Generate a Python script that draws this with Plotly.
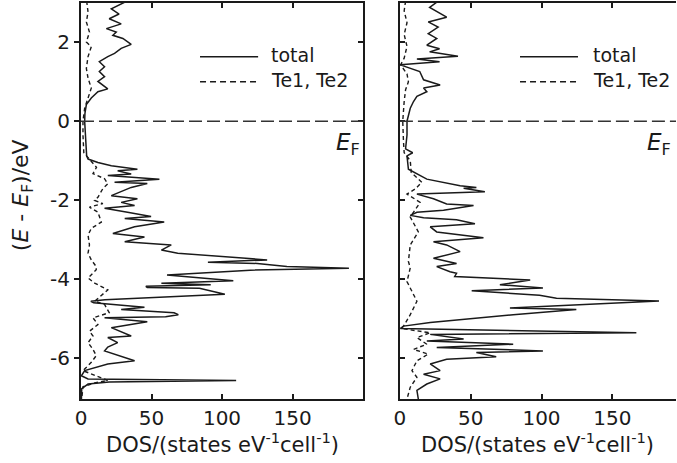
import plotly.graph_objects as go

# ---------------- data ----------------
# Left panel: total DOS
left_total_E = [3.05, 3.02, 2.85, 2.72, 2.60, 2.47, 2.35, 2.26, 2.18, 2.10, 1.95, 1.85, 1.72, 1.64, 1.51,
                1.38, 1.26, 1.13, 1.01, 0.82, 0.75, 0.59, 0.42, 0.20, 0.00, -0.35, -0.70, -0.88, -0.96,
                -1.05, -1.13, -1.22, -1.26, -1.34, -1.38, -1.47, -1.55, -1.58, -1.68, -1.89, -1.97, -2.06,
                -2.14, -2.21, -2.31, -2.42, -2.47, -2.56, -2.68, -2.85, -2.94, -3.06, -3.14, -3.27, -3.35,
                -3.52, -3.58, -3.61, -3.69, -3.73, -3.78, -3.90, -4.05, -4.09, -4.11, -4.15, -4.19, -4.22,
                -4.24, -4.39, -4.53, -4.57, -4.61, -4.72, -4.78, -4.86, -4.91, -4.96, -4.99, -5.09, -5.24,
                -5.45, -5.49, -5.62, -5.73, -5.83, -6.08, -6.16, -6.33, -6.46, -6.54, -6.58, -6.62, -6.67,
                -6.79, -7.05]
left_total = [31, 31, 21.5, 27, 20, 28.5, 18, 25, 22.6, 29.7, 35.6, 28.5, 23.8, 19, 13,
              16.7, 13, 16.7, 12, 19, 12, 7.3, 3.8, 2.8, 2.6, 3, 3.5, 4, 5,
              12, 21.5, 40, 26, 35.6, 19, 55.6, 23.8, 47, 35.6, 21.5, 40, 28.5,
              38, 16.7, 33, 49.7, 31, 59, 38, 22.6, 45, 31, 64, 57, 68.6,
              132, 90, 125, 146, 190, 120, 61, 108, 75, 57, 92, 46, 47,
              84, 102, 17, 7, 9, 45, 28.5, 66, 69, 60, 16.7, 47, 21.5,
              35.6, 19, 26, 19, 16.7, 38, 19, 2.6, 0.3, 5, 110, 20, 5,
              0.5, 0.3]

# Left panel: Te1, Te2 partial DOS
left_te_E = [3.05, 2.77, 2.52, 2.26, 2.01, 1.89, 1.64, 1.34, 1.09, 0.84, 0.59, 0.33, 0.00, -0.35, -0.80,
             -1.00, -1.17, -1.33, -1.46, -1.59, -1.71, -1.93, -2.01, -2.09, -2.18, -2.31, -2.56, -2.72,
             -2.89, -3.14, -3.35, -3.52, -3.69, -3.77, -3.98, -4.11, -4.28, -4.57, -4.65, -4.86, -4.99,
             -5.16, -5.33, -5.45, -5.62, -5.79, -5.95, -6.12, -6.33, -6.58, -6.64, -6.74, -7.05]
left_te = [4, 5, 3.8, 6, 3.8, 7.3, 5, 3.8, 5, 7.3, 5, 2.6, 1.4, 1.4, 2,
           7, 11, 8.5, 16.7, 19, 15.5, 12, 9.7, 15.5, 6, 12, 14.4, 7.3,
           5, 6, 5, 7.3, 10.8, 10.8, 5, 9.7, 19, 9.7, 16.7, 20, 8.5,
           12, 6, 8.5, 5, 8.5, 10.8, 7.3, 1.4, 19, 9.7, 1.4, 0.5]

# Right panel: total DOS
right_total_E = [3.05, 3.02, 2.89, 2.64, 2.52, 2.39, 2.22, 2.10, 1.93, 1.84, 1.76, 1.65, 1.58, 1.51, 1.43,
                 1.34, 1.26, 1.05, 0.92, 0.84, 0.75, 0.63, 0.50, 0.33, 0.00, -0.35, -0.70, -0.80, -0.88,
                 -1.22, -1.47, -1.64, -1.68, -1.70, -1.79, -1.85, -1.97, -2.10, -2.14, -2.26, -2.31, -2.39,
                 -2.45, -2.50, -2.60, -2.68, -2.81, -2.96, -3.06, -3.14, -3.31, -3.48, -3.61, -3.69, -3.82,
                 -3.86, -3.94, -4.03, -4.15, -4.23, -4.30, -4.42, -4.49, -4.56, -4.74, -4.78, -4.91, -5.11,
                 -5.20, -5.26, -5.37, -5.41, -5.53, -5.58, -5.66, -5.74, -5.83, -5.87, -5.98, -6.04, -6.16,
                 -6.33, -6.42, -6.54, -6.67, -6.83, -7.05]
right_total = [28, 26, 21, 33, 20, 27, 20, 26, 19, 28, 21, 41, 12, 28, 0.3,
               7, 14, 16.7, 28.4, 16.7, 19, 12, 9.6, 7.3, 5, 5, 4, 9, 5,
               6, 19, 42.5, 54, 45, 60, 12, 23.7, 33, 52, 30.8, 12, 7.3,
               16.7, 40, 53, 21.4, 26, 59, 23.7, 33, 42.5, 23.7, 40, 26, 35.4,
               40, 38.7, 92, 70.6, 101, 50.7, 98.6, 110.6, 183, 77.7, 124.6, 80, 21.4,
               2.6, 0.3, 167, 21.4, 45, 19, 80, 26, 101, 54, 68, 33, 21.4,
               28.4, 16.7, 28.4, 19, 12, 13]

# Right panel: Te1, Te2 partial DOS
right_te_E = [3.05, 2.80, 2.50, 2.20, 1.90, 1.60, 1.43, 1.20, 1.00, 0.80, 0.50, 0.00, -0.50, -0.80, -1.00,
              -1.30, -1.55, -1.72, -1.85, -2.06, -2.43, -2.81, -3.14, -3.56, -3.72, -4.07, -4.57, -4.91,
              -5.20, -5.26, -5.37, -5.49, -5.66, -5.79, -5.91, -6.08, -6.33, -6.50, -6.75, -7.05]
right_te = [4, 3, 5, 3, 5, 3, 0.5, 5, 6, 4, 3, 2, 2.5, 3, 7.3,
            8, 15.5, 10.8, 5, 14.3, 7.3, 13, 7.3, 6, 7.3, 5, 12, 7.3,
            2.6, 1, 21.4, 12, 19, 9.6, 20, 12, 8.5, 12, 7.3, 5]

x_ticks = [0, 50, 100, 150]
y_ticks = [-6, -4, -2, 0, 2]
y_tick_text = ["-6", "-4", "-2", "0", "2"]
EF = 0
legend_names = ["total", "Te1, Te2"]

# ---------------- figure ----------------
FONT = "DejaVu Sans"
INK = "#1a1a1a"
fig = go.Figure()

fig.add_trace(go.Scatter(x=left_total, y=left_total_E, mode="lines", xaxis="x", yaxis="y",
                         line=dict(color=INK, width=1.5), showlegend=False))
fig.add_trace(go.Scatter(x=left_te, y=left_te_E, mode="lines", xaxis="x", yaxis="y",
                         line=dict(color=INK, width=1.4, dash="4px,3px"), showlegend=False))
fig.add_trace(go.Scatter(x=right_total, y=right_total_E, mode="lines", xaxis="x2", yaxis="y2",
                         line=dict(color=INK, width=1.5), showlegend=False))
fig.add_trace(go.Scatter(x=right_te, y=right_te_E, mode="lines", xaxis="x2", yaxis="y2",
                         line=dict(color=INK, width=1.4, dash="4px,3px"), showlegend=False))

YR = [-7.05, 3.0]
tickfont = dict(family=FONT, size=20, color=INK)
xcommon = dict(showline=True, linecolor=INK, linewidth=2, ticks="inside", ticklen=5, tickwidth=1.5,
               tickcolor=INK, tickvals=x_ticks, mirror="ticks", showgrid=False, zeroline=False,
               tickfont=tickfont, fixedrange=True)

fig.update_layout(
    width=677, height=463,
    margin=dict(l=81, r=1, t=1, b=64),
    plot_bgcolor="white", paper_bgcolor="white",
    xaxis=dict(domain=[0, 0.474], range=[0, 200], anchor="y", **xcommon),
    xaxis2=dict(domain=[0.536, 1.0], range=[0, 195], anchor="y2", **xcommon),
    yaxis=dict(domain=[0, 1], range=YR, anchor="x", showline=True, linecolor=INK, linewidth=2,
               ticks="outside", ticklen=5, tickwidth=1.5, tickcolor=INK, tickvals=y_ticks,
               ticktext=y_tick_text, showgrid=False, zeroline=False, tickfont=tickfont, fixedrange=True),
    yaxis3=dict(range=YR, overlaying="y", side="right", anchor="x", showline=True, linecolor=INK,
                linewidth=2, ticks="inside", ticklen=5, tickwidth=1.5, tickcolor=INK, tickvals=y_ticks,
                showticklabels=False, showgrid=False, zeroline=False, fixedrange=True),
    yaxis2=dict(domain=[0, 1], range=YR, anchor="x2", showline=True, linecolor=INK, linewidth=2,
                ticks="inside", ticklen=5, tickwidth=1.5, tickcolor=INK, tickvals=y_ticks,
                showticklabels=False, showgrid=False, zeroline=False, fixedrange=True),
    showlegend=False,
)

# invisible trace to activate yaxis3
fig.add_trace(go.Scatter(x=[None], y=[None], xaxis="x", yaxis="y3", showlegend=False))

shapes = []
annotations = []
# Fermi level lines and labels
for xr, yr, lx in (("x", "y", 0.995), ("x2", "y2", 0.99)):
    shapes.append(dict(type="line", xref=f"{xr} domain", yref=yr, x0=0, x1=1, y0=EF, y1=EF,
                       line=dict(color="#333333", width=1.5, dash="13px,5px")))
    annotations.append(dict(text="<i>E</i><sub>F</sub>",
                            xref=f"{xr} domain", yref="paper",
                            x=lx, y=0.645, xanchor="right", yanchor="middle", showarrow=False,
                            font=dict(family=FONT, size=23, color=INK)))

# legends (drawn per panel)
for xr, x0, x1, xt in (("x", 0.422, 0.628, 0.668), ("x2", 0.435, 0.645, 0.692)):
    shapes.append(dict(type="line", xref=f"{xr} domain", yref="paper", x0=x0, x1=x1,
                       y0=0.864, y1=0.864, line=dict(color=INK, width=1.5)))
    shapes.append(dict(type="line", xref=f"{xr} domain", yref="paper", x0=x0, x1=x1,
                       y0=0.801, y1=0.801, line=dict(color=INK, width=1.5, dash="6px,4px")))
    annotations.append(dict(text=legend_names[0], xref=f"{xr} domain", yref="paper", x=xt, y=0.868,
                            xanchor="left", yanchor="middle", showarrow=False,
                            font=dict(family=FONT, size=19, color=INK)))
    annotations.append(dict(text=legend_names[1], xref=f"{xr} domain", yref="paper", x=xt, y=0.805,
                            xanchor="left", yanchor="middle", showarrow=False,
                            font=dict(family=FONT, size=19, color=INK)))

# axis titles
xtitle = "DOS/(states eV<sup>-1</sup>cell<sup>-1</sup>)"
for xr in ("x", "x2"):
    annotations.append(dict(text=xtitle, xref=f"{xr} domain", yref="paper", x=0.5, y=-0.11,
                            xanchor="center", yanchor="middle", showarrow=False,
                            font=dict(family=FONT, size=21, color=INK)))
annotations.append(dict(text="(<i>E</i> - <i>E</i><sub>F</sub>)/eV",
                        xref="paper", yref="paper",
                        x=-0.099, y=0.515, xanchor="center", yanchor="middle", textangle=-90,
                        showarrow=False, font=dict(family=FONT, size=22, color=INK)))

fig.update_layout(shapes=shapes, annotations=annotations)
fig.write_html("out.html")
